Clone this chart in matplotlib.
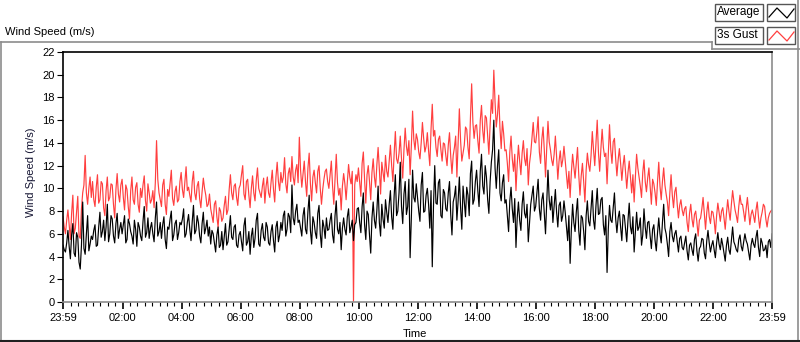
import matplotlib
matplotlib.use('Agg')
import matplotlib.pyplot as plt
import matplotlib.patches as patches
from matplotlib.lines import Line2D
import numpy as np

# wind speed, one sample every 5 minutes, 23:59 -> 23:59 (m/s), one row per hour
avg_speed = [
    5.0, 4.4, 6.3, 3.8, 6.9, 4.0, 5.7, 2.9, 8.8, 4.2, 7.6, 5.1,
    5.5, 6.8, 5.0, 7.9, 6.2, 5.4, 8.6, 6.0, 7.3, 5.2, 7.8, 6.4,
    6.0, 7.6, 5.5, 6.9, 5.8, 7.2, 4.9, 6.6, 5.4, 8.4, 6.1, 5.6,
    7.0, 5.3, 8.8, 6.2, 5.6, 7.5, 4.7, 6.4, 8.0, 5.9, 7.2, 6.1,
    6.8, 8.2, 6.0, 7.7, 5.4, 8.5, 6.3, 7.0, 5.2, 7.9, 6.5, 5.8,
    5.1, 6.0, 4.4, 6.6, 5.0, 4.6, 6.9, 5.3, 7.6, 5.5, 6.8, 4.8,
    6.2, 4.5, 7.4, 5.3, 4.2, 6.5, 5.6, 7.8, 4.9, 6.9, 5.4, 6.6,
    5.0, 6.8, 4.4, 7.1, 5.9, 6.3, 8.0, 6.4, 7.5, 10.3, 6.8, 8.6,
    7.2, 5.8, 8.3, 6.0, 9.4, 5.1, 7.0, 5.6, 8.5, 4.8, 6.6, 7.4,
    6.4, 7.8, 5.2, 8.9, 6.0, 4.6, 7.4, 5.9, 8.2, 6.6, 5.4, 7.0,
    8.3, 6.1, 9.6, 5.5, 7.7, 4.3, 8.8, 6.5, 10.2, 5.8, 7.3, 9.0,
    7.0, 9.8, 6.4, 11.2, 8.0, 12.3, 6.9, 10.6, 8.4, 3.9, 11.6, 8.8,
    9.2, 7.1, 11.4, 8.0, 10.0, 6.5, 3.1, 12.0, 8.6, 10.8, 7.4, 9.6,
    8.0, 10.6, 5.9, 9.3, 7.2, 11.0, 6.4, 8.8, 10.1, 7.6, 12.4, 9.0,
    11.6, 8.4, 13.0, 9.5, 11.0, 7.8, 12.3, 16.0, 10.0, 13.4, 8.9, 11.2,
    9.0, 6.2, 10.1, 7.0, 4.8, 8.8, 6.3, 9.7, 7.4, 5.3, 8.6, 10.2,
    8.4, 10.8, 7.2, 9.6, 6.0, 11.6, 8.1, 7.0, 9.9, 6.6, 8.8, 7.6,
    7.9, 5.4, 3.4, 8.6, 6.2, 9.1, 5.0, 7.4, 4.6, 8.9, 6.7, 9.8,
    6.4, 10.0, 7.8, 9.2, 5.9, 2.6, 8.5, 7.0, 9.6, 6.1, 8.0, 5.4,
    7.6, 5.3, 8.7, 6.0, 4.4, 7.9, 6.6, 5.0, 8.2, 5.6, 7.1, 4.7,
    6.8, 4.5, 7.4, 5.2, 8.6, 6.0, 4.0, 7.0, 5.3, 6.3, 4.4, 5.8,
    4.6, 5.8, 3.7, 5.2, 4.1, 6.0, 3.6, 4.9, 5.5, 3.8, 6.3, 4.4,
    5.4, 3.9, 6.1, 4.6, 5.0, 3.6, 5.7, 4.2, 6.6, 5.0, 4.4, 5.9,
    4.5, 6.0, 5.1, 3.7, 5.6, 4.8, 6.3, 4.0, 5.2, 4.6, 3.9, 5.5,
    6.0,
]
gust_speed = [
    7.5, 6.0, 8.1, 5.5, 9.4, 6.5, 9.3, 5.6, 9.6, 12.9, 8.6, 11.0,
    10.6, 8.4, 11.2, 9.0, 10.4, 7.6, 11.0, 9.2, 10.3, 7.4, 11.3, 8.8,
    10.8, 8.1, 9.9, 7.3, 11.0, 8.6, 10.5, 7.9, 9.2, 11.1, 8.0, 9.6,
    9.0, 8.3, 14.2, 9.6, 8.4, 10.8, 7.7, 9.3, 11.6, 8.5, 10.2, 9.0,
    11.4, 9.2, 11.9, 10.1, 8.8, 11.5, 9.0, 10.6, 8.3, 10.9, 9.4, 8.6,
    8.2, 7.0, 8.9, 6.6, 8.0, 7.4, 9.3, 8.1, 11.2, 9.0, 10.4, 8.5,
    10.3, 12.0, 9.0, 10.8, 8.3, 11.1, 8.9, 11.8, 9.6, 10.2, 8.7, 11.0,
    9.2, 11.6, 8.8, 12.3, 9.8, 10.5, 12.7, 9.6, 11.8, 12.8, 10.3, 12.1,
    14.5, 10.1, 12.4, 9.3, 13.1, 8.9, 11.6, 9.6, 12.0, 8.6, 10.8, 11.7,
    10.0, 12.4, 8.6, 13.0, 9.4, 8.1, 11.3, 9.0, 12.1, 10.4, 0.0, 11.2,
    11.8, 9.3, 13.2, 8.7, 12.0, 9.0, 12.6, 10.1, 13.6, 9.5, 11.4, 12.9,
    11.0, 13.8, 10.6, 15.0, 12.2, 14.6, 10.9, 15.3, 12.9, 11.2, 16.8, 13.4,
    14.3, 12.6, 15.8, 13.2, 14.9, 12.0, 17.4, 15.1, 12.8, 14.6, 12.4, 13.9,
    12.0, 14.9, 11.3, 13.6, 11.0, 17.0, 12.4, 13.8, 15.2, 12.6, 19.2, 14.4,
    15.6, 13.1, 17.3, 14.0, 16.2, 13.0, 17.8, 20.4, 15.4, 18.2, 13.5, 14.8,
    13.4, 10.6, 14.6, 11.5, 9.8, 13.8, 11.2, 14.2, 12.0, 10.3, 13.1, 15.8,
    14.0, 16.3, 12.2, 15.4, 11.0, 15.9, 13.4, 12.0, 14.6, 10.8, 13.3, 12.5,
    12.4, 10.0, 9.2, 13.0, 10.9, 13.6, 9.4, 12.2, 8.8, 13.1, 11.5, 15.0,
    12.0, 16.0, 11.5, 15.2, 12.8, 10.4, 15.6, 12.2, 14.4, 11.1, 13.5, 10.7,
    12.9, 10.0, 12.4, 9.6, 8.8, 13.0, 11.0, 9.2, 12.5, 9.7, 11.8, 8.6,
    10.4, 8.5, 12.3, 9.0, 11.8, 9.5, 7.6, 11.2, 8.3, 10.1, 7.4, 9.0,
    7.6, 8.4, 6.2, 8.6, 6.6, 8.0, 5.8, 7.4, 9.2, 6.4, 8.8, 6.9,
    7.9, 6.0, 8.7, 7.1, 8.3, 6.4, 9.0, 7.2, 9.8, 8.1, 7.0, 9.4,
    8.6, 7.1, 9.2, 6.8, 8.1, 7.0, 8.8, 6.5, 7.9, 8.4, 6.6, 7.8,
    8.1,
]
# in-between samples (2.5 min after each sample above)
avg_mid = [
    4.6, 5.2, 4.9, 5.9, 4.3, 6.1, 3.5, 5.0, 4.7, 6.0, 4.5, 5.8,
    6.3, 4.9, 6.6, 5.7, 7.2, 6.6, 5.3, 7.6, 5.8, 6.9, 5.6, 7.0,
    6.8, 5.2, 7.3, 6.2, 5.1, 6.4, 7.0, 5.8, 7.1, 5.7, 7.4, 6.5,
    6.0, 7.4, 5.8, 7.0, 6.8, 5.5, 6.6, 7.3, 5.4, 6.9, 5.5, 7.0,
    7.3, 5.7, 7.0, 6.4, 7.1, 6.0, 7.6, 5.8, 6.9, 6.0, 7.2, 6.6,
    6.3, 5.2, 5.9, 4.8, 6.2, 5.8, 5.0, 6.4, 5.7, 6.6, 5.0, 5.9,
    5.3, 6.7, 5.0, 6.2, 5.8, 4.8, 7.2, 5.1, 6.3, 5.7, 7.0, 5.2,
    6.2, 5.4, 6.6, 5.3, 7.0, 7.6, 5.8, 7.8, 6.1, 7.4, 8.0, 7.0,
    6.5, 7.6, 6.4, 8.0, 6.3, 7.5, 6.1, 7.8, 6.0, 7.2, 5.6, 6.3,
    7.2, 5.9, 7.6, 6.4, 7.0, 6.5, 6.4, 7.5, 6.1, 7.2, 6.8, 8.2,
    7.0, 8.4, 6.8, 8.0, 5.9, 7.4, 7.2, 8.1, 7.0, 8.6, 6.5, 7.9,
    8.6, 7.5, 9.3, 7.6, 9.6, 8.4, 9.5, 7.7, 10.8, 7.4, 9.2, 10.4,
    8.0, 10.3, 7.9, 9.4, 8.6, 9.8, 8.5, 8.7, 10.5, 7.6, 9.9, 8.2,
    9.6, 7.7, 8.8, 10.2, 8.9, 8.3, 10.2, 7.5, 9.4, 11.3, 8.6, 10.6,
    9.8, 11.5, 10.2, 12.0, 9.0, 10.6, 13.4, 11.8, 12.0, 9.6, 10.5, 8.7,
    7.6, 8.9, 8.2, 9.1, 7.4, 7.2, 8.6, 7.8, 8.6, 7.0, 9.4, 8.0,
    9.6, 8.2, 9.0, 7.8, 8.7, 9.0, 9.3, 8.4, 7.9, 8.5, 7.1, 8.9,
    6.6, 7.6, 6.4, 7.0, 7.9, 6.3, 7.6, 6.2, 7.6, 7.1, 8.3, 7.2,
    8.5, 7.7, 9.0, 6.8, 7.6, 6.4, 7.2, 8.3, 7.3, 7.4, 6.6, 7.7,
    6.4, 7.2, 6.6, 7.5, 6.1, 6.3, 7.4, 5.9, 6.6, 7.0, 5.8, 6.4,
    5.4, 6.1, 6.0, 7.0, 6.5, 5.1, 6.2, 5.8, 6.0, 5.3, 5.6, 4.8,
    5.2, 4.5, 5.0, 4.6, 5.5, 4.5, 4.7, 5.6, 4.3, 5.4, 5.2, 5.0,
    4.6, 5.2, 5.1, 5.6, 4.3, 5.0, 4.6, 5.4, 5.3, 4.6, 5.5, 4.9,
    5.3, 5.4, 4.4, 5.0, 5.1, 5.7, 4.8, 5.6, 4.5, 5.0, 5.3, 4.8,
]
gust_mid = [
    6.6, 7.2, 6.8, 7.8, 6.0, 7.9, 5.8, 8.2, 10.3, 9.6, 10.0, 9.2,
    9.0, 10.1, 8.7, 10.6, 8.3, 9.8, 8.9, 10.4, 8.6, 9.9, 9.5, 10.3,
    9.2, 10.3, 8.4, 9.8, 9.0, 10.1, 8.6, 10.0, 10.3, 8.9, 10.4, 8.7,
    9.8, 10.5, 10.8, 9.0, 10.3, 8.6, 9.9, 10.5, 9.1, 9.7, 8.8, 10.6,
    9.9, 10.6, 9.8, 9.4, 10.6, 9.6, 10.2, 9.1, 9.7, 10.0, 8.4, 9.5,
    7.6, 8.6, 7.5, 8.3, 7.1, 8.5, 7.7, 9.9, 9.6, 10.2, 9.2, 10.0,
    11.2, 9.5, 10.6, 9.4, 10.0, 9.6, 10.7, 10.0, 9.2, 10.9, 10.2, 9.6,
    10.5, 9.9, 11.0, 10.6, 11.4, 11.0, 10.4, 11.3, 10.6, 11.0, 11.6, 10.5,
    11.6, 11.3, 10.6, 11.8, 10.4, 11.0, 10.5, 11.5, 10.0, 9.9, 11.5, 10.6,
    11.2, 10.2, 10.9, 10.5, 10.0, 10.2, 10.4, 10.6, 11.0, 11.5, 10.3, 10.6,
    10.5, 12.2, 10.8, 11.2, 10.6, 11.4, 11.0, 12.1, 11.7, 12.3, 10.6, 11.5,
    12.4, 12.0, 13.0, 12.6, 13.1, 12.6, 13.4, 13.7, 14.2, 13.7, 14.3, 14.8,
    13.2, 14.0, 14.4, 13.7, 13.3, 15.2, 14.6, 13.6, 14.3, 13.4, 14.0, 12.9,
    13.8, 12.8, 12.9, 14.6, 13.9, 14.2, 13.1, 15.4, 13.6, 16.2, 15.8, 15.5,
    14.2, 16.0, 15.1, 16.4, 14.6, 15.6, 16.6, 17.6, 16.5, 15.3, 15.9, 13.3,
    12.2, 13.2, 12.6, 13.0, 12.1, 12.4, 13.1, 12.6, 13.5, 12.2, 14.5, 14.1,
    15.0, 13.2, 14.3, 13.4, 13.6, 14.1, 12.5, 13.0, 12.8, 12.4, 11.9, 13.7,
    11.2, 11.5, 11.4, 11.9, 12.2, 11.2, 11.1, 10.6, 11.6, 12.1, 12.9, 13.4,
    14.0, 13.2, 13.5, 13.6, 13.1, 13.0, 13.4, 14.1, 12.6, 12.5, 12.2, 12.0,
    11.5, 11.4, 11.0, 11.2, 11.0, 11.8, 10.2, 11.4, 10.6, 10.9, 10.2, 10.8,
    9.6, 10.6, 10.2, 10.6, 10.3, 8.8, 9.6, 9.4, 9.7, 8.6, 8.5, 8.1,
    8.2, 7.0, 7.8, 7.3, 7.7, 7.0, 7.2, 8.2, 7.8, 7.9, 7.5, 8.0,
    7.2, 7.6, 7.9, 8.0, 7.4, 7.8, 8.0, 8.6, 8.9, 7.6, 8.4, 8.6,
    7.9, 8.2, 8.0, 7.7, 7.6, 8.1, 7.5, 7.4, 8.6, 7.3, 7.4, 8.0,
]
time_labels = ['23:59', '02:00', '04:00', '06:00', '08:00', '10:00', '12:00',
               '14:00', '16:00', '18:00', '20:00', '22:00', '23:59']

# merge both sample sets into one time series
t = np.concatenate([np.arange(len(avg_speed)) * 5.0, np.arange(len(avg_mid)) * 5.0 + 2.5])
order = np.argsort(t)
minutes = t[order]
avg_all = np.concatenate([avg_speed, avg_mid])[order]
gust_all = np.concatenate([gust_speed, gust_mid])[order]

W, H = 800, 342


def fx(x):
    return x / W


def fy(y):
    return 1 - y / H


plt.rcParams['font.family'] = ['Liberation Sans', 'DejaVu Sans']
plt.rcParams['font.size'] = 8

fig = plt.figure(figsize=(W / 100, H / 100), dpi=100)
ax = fig.add_axes([fx(63), fy(302), fx(772) - fx(63), fy(52) - fy(302)])

ax.plot(minutes, gust_all, color='#ff3f3f', linewidth=0.85)
ax.plot(minutes, avg_all, color='black', linewidth=0.85)

ax.set_xlim(0, 1440)
ax.set_ylim(0, 22)
ax.set_yticks(np.arange(0, 23, 2))
major = [0] + list(range(121, 1440, 120)) + [1440]
ax.set_xticks(major)
ax.set_xticklabels(time_labels)
ax.set_xticks([m for m in range(1, 1440, 15) if m not in major and m > 5], minor=True)
ax.tick_params(axis='x', which='major', length=5, width=1.2, pad=3)
ax.tick_params(axis='x', which='minor', length=3, width=0.8)
ax.tick_params(axis='y', length=4, width=0.8, pad=2)

# sunken LabVIEW style plot frame
ax.spines['left'].set_color('black')
ax.spines['top'].set_color('black')
ax.spines['right'].set_color('#8c8c8c')
ax.spines['bottom'].set_color('#8c8c8c')
for s in ax.spines.values():
    s.set_linewidth(1.2)

fig.text(fx(31), fy(172), 'Wind Speed (m/s)', rotation=90, ha='center', va='center',
         color='#141432')
fig.text(fx(415), fy(334), 'Time', ha='center', va='center')
fig.text(fx(5), fy(32), 'Wind Speed (m/s)', ha='left', va='center')

# outer panel frame
def frame_line(xs, ys, color='#8c8c8c', lw=1.2):
    fig.add_artist(Line2D([fx(v) for v in xs], [fy(v) for v in ys],
                          transform=fig.transFigure, color=color, linewidth=lw))

frame_line([1, 1], [42, 341])
frame_line([1, 712], [42, 42])
frame_line([712, 712], [42, 49])
frame_line([712, 800], [49, 49])
frame_line([798, 798], [0, 341])
frame_line([0, 800], [341, 341], color='#202020', lw=1.5)

# legend
legend_rows = [('Average', 'black', 4), ('3s Gust', '#ff3f3f', 27)]
for name, col, top in legend_rows:
    fig.add_artist(patches.Rectangle((fx(715), fy(top + 17)), fx(48), 17 / H,
                                     transform=fig.transFigure, facecolor='white',
                                     edgecolor='#555555', linewidth=1))
    fig.text(fx(717), fy(top + 8.5), name, ha='left', va='center', fontsize=8.5)
    fig.add_artist(patches.Rectangle((fx(767), fy(top + 17)), fx(28), 17 / H,
                                     transform=fig.transFigure, facecolor='white',
                                     edgecolor='#555555', linewidth=1))
    frame_line([769, 777, 787, 794], [top + 13, top + 4, top + 14, top + 5],
               color=col, lw=0.9)

fig.savefig('out.png', dpi=100)
